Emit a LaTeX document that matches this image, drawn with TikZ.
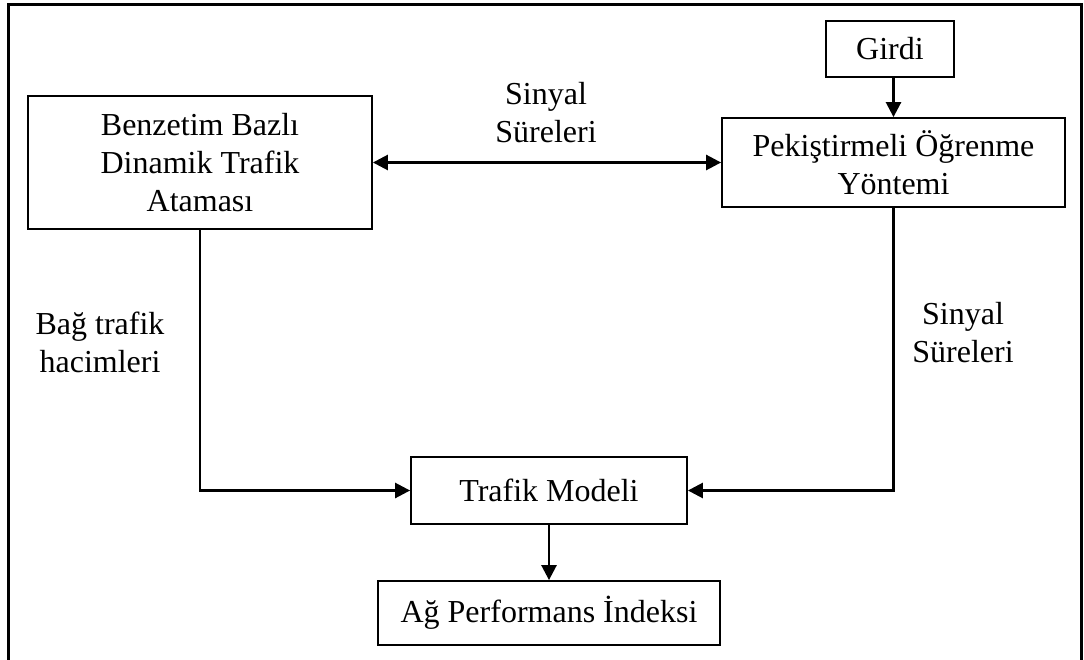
\documentclass[tikz,border=0pt]{standalone}
\usepackage{fontspec}
\setmainfont{Liberation Serif}
\usetikzlibrary{arrows.meta}
\begin{document}
\begin{tikzpicture}[x=1pt,y=-1pt,
  every node/.style={font=\fontsize{32}{38}\selectfont},
  box/.style={draw,line width=1.8pt,inner sep=0pt,align=center},
  link/.style={line width=2.6pt,-{Triangle[length=15pt,width=15pt]}},
  biglink/.style={line width=2.6pt,{Triangle[length=15pt,width=15pt]}-{Triangle[length=15pt,width=15pt]}},
  lbl/.style={align=center,inner sep=0pt}]
\useasboundingbox (0,0) rectangle (1084,660);
% outer frame, open at the bottom
\draw[line width=3pt] (8,662) -- (8,5) -- (1081,5) -- (1081,662);

% boxes
\node[box,minimum width=344pt,minimum height=133pt] (benz) at (200,162.5)
  {Benzetim Bazlı\\Dinamik Trafik\\Ataması};
\node[box,minimum width=128pt,minimum height=56pt] (girdi) at (890,49) {Girdi};
\node[box,minimum width=343pt,minimum height=89pt] (pek) at (893.5,162.5)
  {Pekiştirmeli Öğrenme\\Yöntemi};
\node[box,minimum width=276pt,minimum height=67pt] (traf) at (549,490.5) {Trafik Modeli};
\node[box,minimum width=342pt,minimum height=64pt] (ag) at (549,613) {Ağ Performans İndeksi};

% labels
\node[lbl] (l1) at (546,113) {Sinyal\\Süreleri};
\node[lbl] (l2) at (963,333) {Sinyal\\Süreleri};
\node[lbl] (l3) at (100,342) {Bağ trafik\\hacimleri};

% connectors
\draw[link] (pek.north |- girdi.south) -- (pek.north);
\draw[biglink] (benz.east) -- (pek.west);
\draw[link] (benz.south) |- (traf.west);
\draw[link] (pek.south) |- (traf.east);
\draw[link] (traf.south) -- (ag.north);
\end{tikzpicture}
\end{document}
